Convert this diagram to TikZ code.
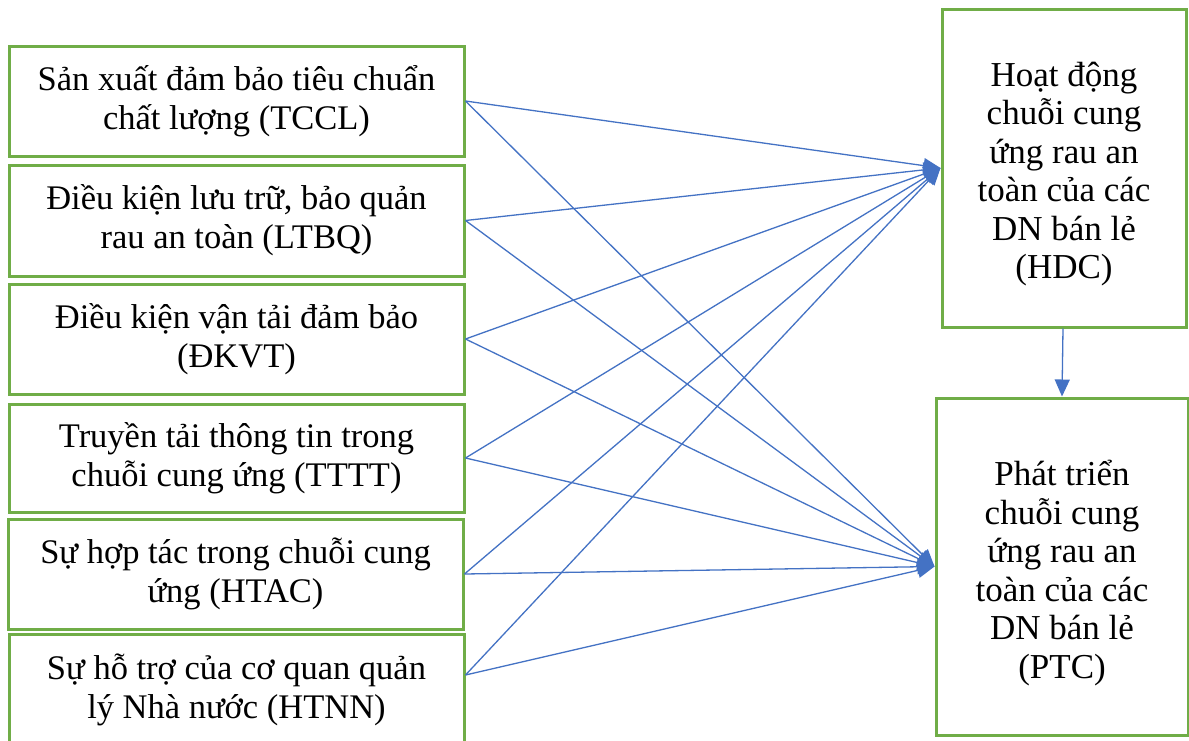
\documentclass[tikz,border=0pt]{standalone}
\usepackage{fontspec}
\setmainfont{Liberation Serif}
\usetikzlibrary{arrows.meta}
\definecolor{boxgreen}{RGB}{112,173,71}
\definecolor{linkblue}{RGB}{68,114,196}
\tikzset{
  leftbox/.style={draw=boxgreen, line width=3pt, rectangle, minimum width=455pt, align=center, inner sep=0pt,
    font=\fontsize{34.5}{39}\selectfont},
  rightbox/.style={draw=boxgreen, line width=3pt, rectangle, inner sep=0pt},
  righttext/.style={align=center, inner sep=0pt, font=\fontsize{35}{38.5}\selectfont},
  link/.style={draw=linkblue, line width=1.3pt, -{Triangle[length=17pt,width=15pt]}}
}
\begin{document}
\begin{tikzpicture}[x=1pt,y=-1pt]
\useasboundingbox (0,0) rectangle (1189,740);
\clip (0,0) rectangle (1189,740);
\fill[white] (0,0) rectangle (1189,740);
\node[leftbox, minimum height=110pt] (h1) at (236.5,101) {Sản xuất đảm bảo tiêu chuẩn\\chất lượng (TCCL)};
\node[leftbox, minimum height=111pt] (h2) at (236.5,220.5) {Điều kiện lưu trữ, bảo quản\\rau an toàn (LTBQ)};
\node[leftbox, minimum height=110pt] (h3) at (236.5,339) {Điều kiện vận tải đảm bảo\\(ĐKVT)};
\node[leftbox, minimum height=108pt] (h4) at (236.5,458) {Truyền tải thông tin trong\\chuỗi cung ứng (TTTT)};
\node[leftbox, minimum height=110pt] (h5) at (235.5,574) {Sự hợp tác trong chuỗi cung\\ứng (HTAC)};
\node[leftbox, minimum height=118pt] (h6) at (236.5,693) {};
\node[font=\fontsize{34.5}{39}\selectfont, align=center, inner sep=0pt] (t6) at (236.5,690) {Sự hỗ trợ của cơ quan quản\\lý Nhà nước (HTNN)};
\node[rightbox, minimum width=244pt, minimum height=318pt] (hdc) at (1064,168) {};
\node[righttext] (hdct) at (1064,174) {Hoạt động\\chuỗi cung\\ứng rau an\\toàn của các\\DN bán lẻ\\(HDC)};
\node[rightbox, minimum width=252pt, minimum height=337pt] (ptc) at (1062,566.5) {};
\node[righttext] (ptct) at (1062,573) {Phát triển\\chuỗi cung\\ứng rau an\\toàn của các\\DN bán lẻ\\(PTC)};
\coordinate (s6) at ([yshift=18pt]h6.east);
\foreach \s in {h1.east,h2.east,h3.east,h4.east,h5.east,s6}{
  \draw[link] (\s) -- (hdc.west);
  \draw[link] (\s) -- (ptc.west);
}
\draw[link] ([xshift=-1pt]hdc.south) -- (ptc.north);
\end{tikzpicture}
\end{document}
